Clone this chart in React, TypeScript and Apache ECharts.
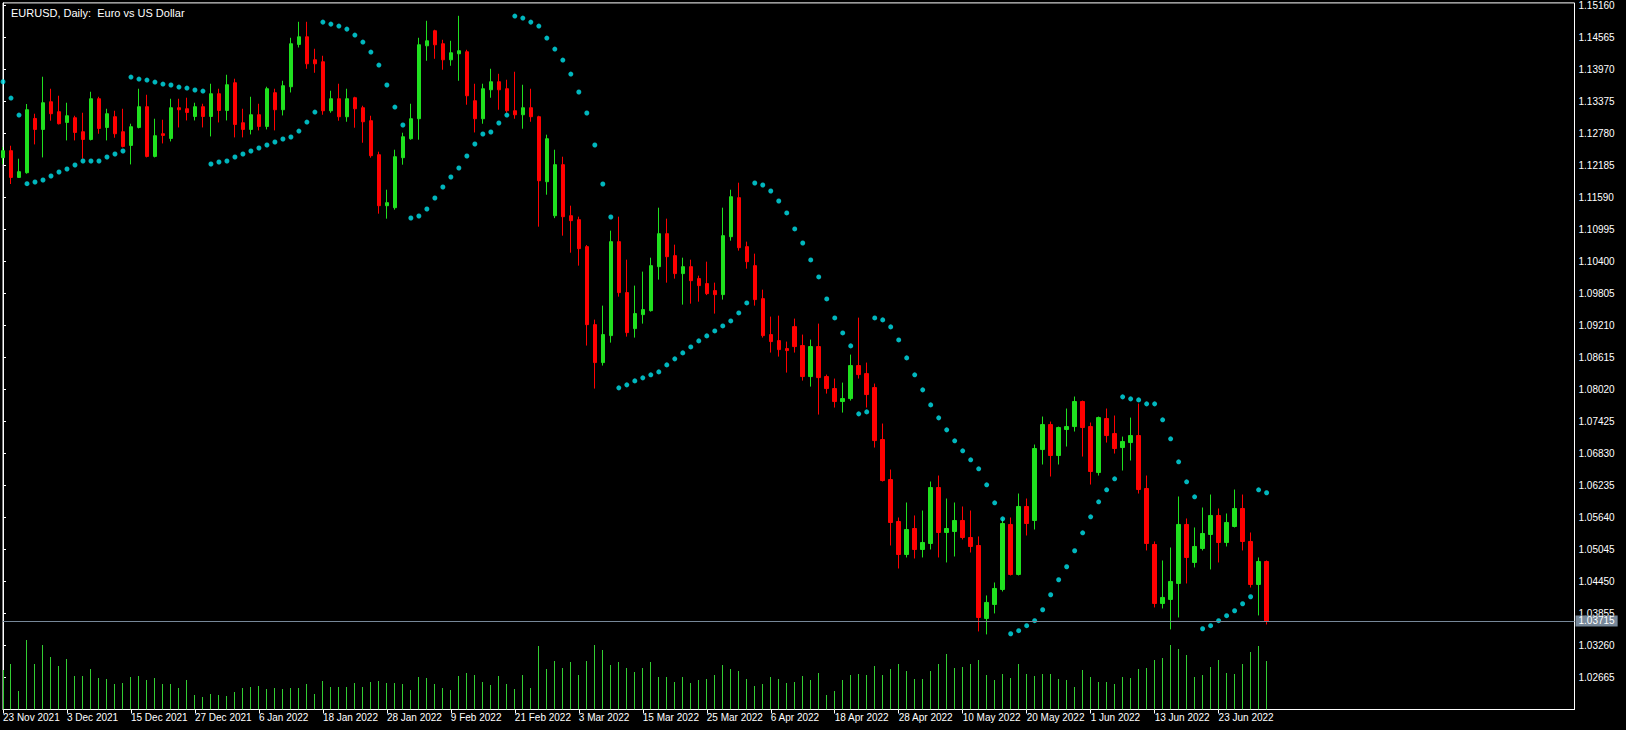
import React, { useEffect, useRef } from "react";
import * as echarts from "echarts";

const FONT = "'Liberation Sans', Arial, sans-serif";

const chartTitle = "EURUSD, Daily:  Euro vs US Dollar";

// x-axis tick labels, one every 8 daily bars
const dateLabels = [
  "23 Nov 2021", "3 Dec 2021", "15 Dec 2021", "27 Dec 2021", "6 Jan 2022",
  "18 Jan 2022", "28 Jan 2022", "9 Feb 2022", "21 Feb 2022", "3 Mar 2022",
  "15 Mar 2022", "25 Mar 2022", "6 Apr 2022", "18 Apr 2022", "28 Apr 2022",
  "10 May 2022", "20 May 2022", "1 Jun 2022", "13 Jun 2022", "23 Jun 2022",
];
const labelStep = 8;

const opens = [
  1.12323, 1.12453, 1.11957, 1.12044, 1.13052, 1.12848, 1.13362, 1.13177, 1.12978, 1.13065,
  1.12805, 1.12662, 1.13418, 1.12885, 1.13084, 1.12805, 1.12551, 1.12885, 1.1327, 1.12347,
  1.12768, 1.12681, 1.13251, 1.13232, 1.13089, 1.1327, 1.13089, 1.13511, 1.13201, 1.13715,
  1.12972, 1.12848, 1.13121, 1.12904, 1.1353, 1.13214, 1.13641, 1.14427, 1.14569, 1.14142,
  1.14105, 1.13195, 1.13418, 1.13084, 1.13437, 1.13251, 1.1301, 1.12378, 1.11431, 1.11394,
  1.12323, 1.12675, 1.13047, 1.14402, 1.14681, 1.1444, 1.14142, 1.14254, 1.14291, 1.13381,
  1.13047, 1.13585, 1.13734, 1.13604, 1.13195, 1.13121, 1.13251, 1.13084, 1.11877, 1.11245,
  1.12193, 1.11245, 1.11171, 1.1067, 1.09221, 1.08516, 1.09017, 1.10763, 1.09816, 1.09147,
  1.09407, 1.09481, 1.10298, 1.10911, 1.10503, 1.10169, 1.10298, 1.10076, 1.09983, 1.09853,
  1.09779, 1.10855, 1.1158, 1.1067, 1.10317, 1.09704, 1.09036, 1.08924, 1.08776, 1.09184,
  1.08832, 1.08256, 1.08813, 1.08256, 1.08033, 1.07792, 1.07847, 1.0846, 1.08311, 1.08051,
  1.07086, 1.06343, 1.05563, 1.0495, 1.05433, 1.05043, 1.05155, 1.06194, 1.05359, 1.05377,
  1.05582, 1.05266, 1.05117, 1.03762, 1.04022, 1.043, 1.05508, 1.04579, 1.05842, 1.05582,
  1.069, 1.07364, 1.06789, 1.07272, 1.07327, 1.07792, 1.07327, 1.06473, 1.07476, 1.07197,
  1.06937, 1.0703, 1.0716, 1.06176, 1.05136, 1.0404, 1.04115, 1.04412, 1.05508, 1.04802,
  1.05062, 1.05322, 1.05675, 1.05173, 1.0547, 1.05805, 1.05192, 1.04393, 1.0482,
];

const highs = [
  1.1252, 1.12545, 1.12304, 1.1332, 1.1314, 1.13827, 1.13604, 1.13474, 1.13344, 1.13102,
  1.13158, 1.13548, 1.13455, 1.13232, 1.13195, 1.13232, 1.12954, 1.13604, 1.13492, 1.13047,
  1.13028, 1.13418, 1.13418, 1.13437, 1.13344, 1.13325, 1.13697, 1.13604, 1.13864, 1.1379,
  1.13232, 1.13455, 1.13325, 1.13641, 1.13604, 1.13752, 1.14551, 1.14848, 1.14848, 1.14347,
  1.14217, 1.13567, 1.13697, 1.13604, 1.13455, 1.13288, 1.13102, 1.12434, 1.11728, 1.12471,
  1.12787, 1.13325, 1.14551, 1.14867, 1.147, 1.14514, 1.14495, 1.14959, 1.14328, 1.13697,
  1.13697, 1.13975, 1.13882, 1.13771, 1.1392, 1.13678, 1.13604, 1.13102, 1.1275, 1.12471,
  1.12341, 1.11431, 1.11227, 1.107, 1.09314, 1.09574, 1.10967, 1.11227, 1.10428, 1.09946,
  1.10206, 1.10465, 1.11394, 1.1119, 1.10707, 1.10465, 1.10428, 1.10131, 1.10391, 1.10001,
  1.11394, 1.11728, 1.11858, 1.10763, 1.1054, 1.09871, 1.0937, 1.09388, 1.08906, 1.09333,
  1.09036, 1.08943, 1.0924, 1.08293, 1.08219, 1.08144, 1.08664, 1.09351, 1.08516, 1.08126,
  1.07383, 1.06529, 1.05637, 1.05916, 1.05675, 1.05767, 1.06306, 1.06417, 1.0599, 1.05916,
  1.05842, 1.05767, 1.05285, 1.04189, 1.0443, 1.05619, 1.05637, 1.06083, 1.0599, 1.06993,
  1.07513, 1.0742, 1.07327, 1.07662, 1.07885, 1.0781, 1.07402, 1.07513, 1.07662, 1.07532,
  1.07141, 1.07494, 1.07755, 1.06417, 1.05192, 1.04839, 1.0508, 1.06028, 1.05619, 1.05452,
  1.05823, 1.06064, 1.05805, 1.05712, 1.06157, 1.06064, 1.05359, 1.04895, 1.04839,
];

const lows = [
  1.122, 1.11834, 1.1195, 1.12025, 1.1257, 1.12328, 1.1301, 1.12941, 1.12644, 1.12644,
  1.12304, 1.12644, 1.12768, 1.12644, 1.12694, 1.12514, 1.12198, 1.12867, 1.12328, 1.12328,
  1.12588, 1.12625, 1.12885, 1.13015, 1.13015, 1.12885, 1.12718, 1.12978, 1.13015, 1.127,
  1.127, 1.12755, 1.1283, 1.12848, 1.1283, 1.13108, 1.13535, 1.14371, 1.13975, 1.13901,
  1.13121, 1.13158, 1.1301, 1.12991, 1.1288, 1.12601, 1.12323, 1.11283, 1.1119, 1.11357,
  1.12193, 1.12657, 1.12657, 1.14124, 1.14161, 1.13957, 1.14031, 1.13752, 1.13307, 1.12792,
  1.12954, 1.13437, 1.13214, 1.13158, 1.13047, 1.12861, 1.12991, 1.11041, 1.11635, 1.112,
  1.10874, 1.10558, 1.10317, 1.08832, 1.08033, 1.0846, 1.08887, 1.09741, 1.08998, 1.0898,
  1.0924, 1.09463, 1.10057, 1.10001, 1.10076, 1.09593, 1.09611, 1.09648, 1.0977, 1.09426,
  1.09686, 1.10781, 1.10596, 1.10261, 1.09574, 1.0898, 1.08702, 1.08627, 1.0833, 1.08702,
  1.08181, 1.0807, 1.0755, 1.0794, 1.0768, 1.07587, 1.0781, 1.08219, 1.0768, 1.06937,
  1.06306, 1.05117, 1.0469, 1.04895, 1.04876, 1.04895, 1.05043, 1.04895, 1.04802, 1.04913,
  1.05229, 1.04987, 1.03521, 1.03465, 1.03855, 1.04263, 1.0456, 1.0456, 1.05303, 1.05414,
  1.06622, 1.06399, 1.06622, 1.06956, 1.07235, 1.0677, 1.0625, 1.06417, 1.0703, 1.06826,
  1.0651, 1.06696, 1.06083, 1.05025, 1.03966, 1.03947, 1.03558, 1.0378, 1.04412, 1.04709,
  1.05025, 1.04672, 1.04802, 1.05099, 1.05452, 1.05025, 1.04337, 1.03818, 1.0365,
];

const closes = [
  1.12453, 1.11957, 1.12063, 1.13214, 1.12848, 1.13344, 1.1314, 1.12954, 1.13102, 1.12792,
  1.12662, 1.13418, 1.12867, 1.1314, 1.12768, 1.12532, 1.12898, 1.1327, 1.12347, 1.12731,
  1.12737, 1.13251, 1.13214, 1.13164, 1.1327, 1.13089, 1.13511, 1.13201, 1.13678, 1.12941,
  1.12848, 1.13121, 1.12904, 1.13604, 1.13214, 1.1366, 1.1444, 1.14569, 1.14068, 1.14068,
  1.13195, 1.13418, 1.13084, 1.13418, 1.13232, 1.12991, 1.1236, 1.11431, 1.11487, 1.12341,
  1.12712, 1.13047, 1.14421, 1.14495, 1.14421, 1.14142, 1.14272, 1.1431, 1.13474, 1.13047,
  1.13604, 1.13734, 1.13585, 1.13195, 1.13121, 1.13251, 1.13084, 1.11895, 1.12675, 1.12193,
  1.11227, 1.11153, 1.10633, 1.09221, 1.08516, 1.09036, 1.10763, 1.09816, 1.09073, 1.09426,
  1.095, 1.10317, 1.10911, 1.10484, 1.10169, 1.10298, 1.10038, 1.09946, 1.09797, 1.09779,
  1.10874, 1.11598, 1.10651, 1.10391, 1.09686, 1.09017, 1.08906, 1.08757, 1.08739, 1.08813,
  1.08256, 1.08813, 1.08237, 1.08033, 1.07792, 1.07847, 1.0846, 1.08293, 1.07922, 1.07067,
  1.06324, 1.05545, 1.0495, 1.05414, 1.05043, 1.05173, 1.06194, 1.05359, 1.05433, 1.05582,
  1.05266, 1.05099, 1.0378, 1.04059, 1.04319, 1.05526, 1.04579, 1.05842, 1.05526, 1.06919,
  1.07364, 1.06789, 1.07309, 1.07327, 1.07792, 1.07309, 1.06492, 1.07494, 1.0716, 1.06919,
  1.07049, 1.0716, 1.06157, 1.05155, 1.0404, 1.04152, 1.04449, 1.05508, 1.04895, 1.05099,
  1.0534, 1.05675, 1.05173, 1.05545, 1.05805, 1.05192, 1.04393, 1.0482, 1.03715,
];

// Parabolic SAR values
const sar = [
  1.13734, 1.13431, 1.13115, 1.1184, 1.11871, 1.11908, 1.11983, 1.12057, 1.12113, 1.12187,
  1.12261, 1.12261, 1.12261, 1.12336, 1.12391, 1.12447, 1.13821, 1.13784, 1.13765, 1.13728,
  1.13691, 1.13673, 1.13635, 1.13617, 1.1358, 1.13561, 1.12206, 1.12243, 1.12261, 1.12336,
  1.12391, 1.12447, 1.12503, 1.12558, 1.12614, 1.1267, 1.12707, 1.12818, 1.12985, 1.13171,
  1.14842, 1.14805, 1.14768, 1.14712, 1.14601, 1.14471, 1.14285, 1.14044, 1.13673, 1.13264,
  1.1293, 1.11203, 1.1124, 1.1137, 1.11574, 1.11778, 1.11964, 1.12131, 1.12354, 1.12577,
  1.12763, 1.128, 1.12967, 1.13115, 1.14954, 1.14917, 1.14842, 1.14768, 1.14545, 1.14341,
  1.14137, 1.13877, 1.13543, 1.13153, 1.12558, 1.11834, 1.11221, 1.08046, 1.08102, 1.08176,
  1.08232, 1.08288, 1.08343, 1.08473, 1.08585, 1.08696, 1.08807, 1.08919, 1.09012, 1.09104,
  1.09197, 1.0929, 1.09439, 1.09624, 1.11853, 1.11816, 1.11704, 1.11518, 1.11296, 1.10999,
  1.10738, 1.10423, 1.10107, 1.09699, 1.09346, 1.09067, 1.08826, 1.07563, 1.076, 1.09346,
  1.09309, 1.09179, 1.08937, 1.08603, 1.08288, 1.08009, 1.0773, 1.07489, 1.07266, 1.07062,
  1.06876, 1.06709, 1.06542, 1.06245, 1.0591, 1.05613, 1.03478, 1.03534, 1.03627, 1.0372,
  1.03924, 1.04202, 1.04481, 1.04722, 1.05019, 1.05353, 1.0565, 1.05929, 1.06152, 1.06356,
  1.07879, 1.07842, 1.07823, 1.07749, 1.07749, 1.07452, 1.07099, 1.06672, 1.063, 1.06022,
  1.03571, 1.03627, 1.0372, 1.03813, 1.03905, 1.04035, 1.04165, 1.06152, 1.06097,
];

// tick volumes (thousands)
const volumes = [
  40, 46, 19, 70, 46, 65, 53, 44, 51, 34,
  34, 41, 32, 31, 26, 27, 33, 34, 30, 32,
  26, 26, 22, 30, 15, 13, 16, 15, 14, 18,
  22, 23, 24, 21, 22, 21, 22, 22, 26, 16,
  29, 23, 23, 23, 27, 23, 28, 29, 27, 27,
  26, 20, 33, 32, 26, 22, 20, 34, 37, 35,
  28, 25, 34, 26, 21, 35, 22, 64, 41, 49,
  42, 48, 35, 49, 65, 60, 45, 48, 42, 38,
  42, 48, 33, 33, 28, 33, 27, 30, 31, 35,
  45, 41, 39, 31, 24, 26, 33, 31, 27, 28,
  34, 30, 37, 15, 19, 30, 35, 36, 35, 44,
  35, 41, 46, 39, 31, 31, 39, 46, 56, 42,
  43, 46, 50, 35, 30, 36, 32, 46, 36, 34,
  36, 36, 31, 30, 23, 40, 33, 28, 28, 26,
  33, 32, 41, 42, 50, 52, 65, 61, 55, 33,
  35, 43, 50, 37, 36, 46, 58, 64, 49,
];

const lastPrice = 1.03715;
const priceStep = 0.00595;
const priceMin = 1.0207;
const priceMax = 1.15199;
const barsVisible = 196.5;
const volumeAxisMax = 707;

export default function App() {
  const ref = useRef<HTMLDivElement>(null);

  useEffect(() => {
    if (!ref.current) return;
    const chart = echarts.init(ref.current, undefined, { renderer: "svg" });

    const candleData = opens.map((o, i) => [i, o, closes[i], lows[i], highs[i]]);
    const sarData = sar.map((v, i) => [i, v]);
    const volData = volumes.map((v, i) => [i, v]);
    const labelIdx = dateLabels.map((_, k) => k * labelStep);

    chart.setOption({
      animation: false,
      backgroundColor: "#000000",
      title: {
        text: chartTitle,
        left: 6,
        top: 2,
        textStyle: { color: "#ffffff", fontSize: 11, fontWeight: "normal", fontFamily: FONT },
      },
      grid: {
        left: 2.5,
        right: 51.5,
        top: 2.5,
        bottom: 20.5,
        show: true,
        borderColor: "#ffffff",
        borderWidth: 1,
        backgroundColor: "transparent",
      },
      xAxis: {
        type: "value",
        min: 0,
        max: barsVisible,
        axisLine: { show: true, onZero: false, lineStyle: { color: "#ffffff", width: 1 } },
        axisTick: { show: true, length: 4, lineStyle: { color: "#ffffff" }, customValues: labelIdx },
        splitLine: { show: false },
        axisLabel: {
          color: "#ffffff",
          fontSize: 10,
          fontFamily: FONT,
          align: "left",
          margin: 3,
          customValues: labelIdx,
          formatter: (v: number) => {
            const i = Math.round(v);
            if (i % labelStep !== 0) return "";
            return dateLabels[i / labelStep] ?? "";
          },
        },
      },
      yAxis: [
        {
          type: "value",
          position: "right",
          min: priceMin,
          max: priceMax,
          interval: priceStep,
          axisLine: { show: true, lineStyle: { color: "#ffffff", width: 1 } },
          axisTick: { show: true, length: 3, lineStyle: { color: "#ffffff" } },
          splitLine: { show: false },
          axisLabel: {
            color: "#ffffff",
            fontSize: 10,
            fontFamily: FONT,
            margin: 4,
            showMinLabel: false,
            showMaxLabel: false,
            formatter: (v: number) => v.toFixed(5),
          },
        },
        {
          type: "value",
          show: false,
          min: 0,
          max: volumeAxisMax,
        },
      ],
      series: [
        {
          name: "Volumes",
          type: "custom",
          xAxisIndex: 0,
          yAxisIndex: 1,
          data: volData,
          silent: true,
          z: 1,
          clip: true,
          renderItem: (params: any, api: any) => {
            const top = api.coord([api.value(0), api.value(1)]);
            const base = api.coord([api.value(0), 0]);
            const x = Math.round(top[0] - 0.5) + 0.5;
            return {
              type: "line",
              shape: { x1: x, y1: base[1], x2: x, y2: Math.round(top[1]) },
              style: { stroke: "#32cd32", lineWidth: 1 },
            };
          },
        },
        {
          name: "EURUSD",
          type: "candlestick",
          xAxisIndex: 0,
          yAxisIndex: 0,
          data: candleData,
          barWidth: 4,
          silent: true,
          z: 2,
          itemStyle: {
            color: "#1fe01f",
            color0: "#ff0000",
            borderColor: "#1fe01f",
            borderColor0: "#ff0000",
            borderWidth: 1,
          },
        },
        {
          name: "Parabolic SAR",
          type: "scatter",
          xAxisIndex: 0,
          yAxisIndex: 0,
          data: sarData,
          symbol: "circle",
          symbolSize: 5,
          silent: true,
          z: 3,
          itemStyle: { color: "#00e5ee" },
          markLine: {
            silent: true,
            precision: 5,
            symbol: ["none", "none"],
            animation: false,
            lineStyle: { color: "#778899", width: 1, type: "solid" },
            label: {
              show: true,
              position: "end",
              distance: 1,
              formatter: lastPrice.toFixed(5),
              color: "#ffffff",
              backgroundColor: "#778899",
              padding: [1, 3, 0, 3],
              fontSize: 10,
              fontFamily: FONT,
            },
            data: [{ yAxis: lastPrice }],
          },
        },
      ],
    });

    return () => chart.dispose();
  }, []);

  return (
    <div
      ref={ref}
      style={{ position: "fixed", left: 0, top: 0, width: 1626, height: 730, background: "#000" }}
    />
  );
}
